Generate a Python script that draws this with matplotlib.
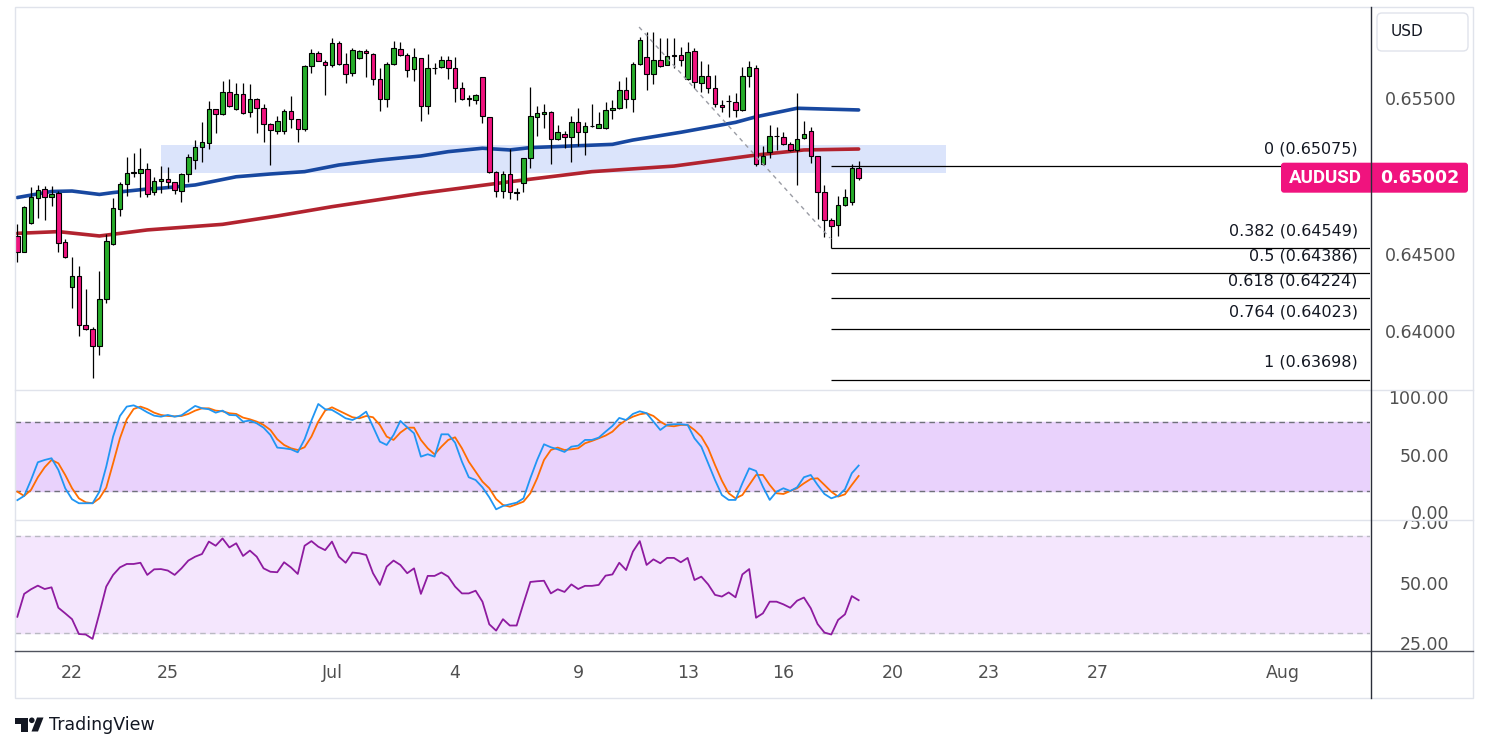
import numpy as np
import matplotlib
matplotlib.use('Agg')
import matplotlib.pyplot as plt
from matplotlib.patches import Rectangle, FancyBboxPatch, Polygon, Circle

plt.rcParams['font.family'] = ['DejaVu Sans']

# --- AUDUSD 4H candles ---
opens = [0.64626, 0.64525, 0.64708, 0.64869, 0.64927, 0.64876, 0.64901, 0.64585, 0.64295, 0.64368,
         0.64050, 0.64024, 0.63914, 0.64218, 0.64574, 0.64798, 0.64959, 0.65034, 0.65034, 0.65056,
         0.64908, 0.64979, 0.64992, 0.64972, 0.64914, 0.65024, 0.65119, 0.65198, 0.65224, 0.65443,
         0.65411, 0.65553, 0.65447, 0.65540, 0.65424, 0.65508, 0.65450, 0.65346, 0.65301, 0.65301,
         0.65432, 0.65379, 0.65314, 0.65722, 0.65808, 0.65750, 0.65729, 0.65869, 0.65733, 0.65675,
         0.65772, 0.65817, 0.65798, 0.65637, 0.65508, 0.65733, 0.65830, 0.65791, 0.65701, 0.65772,
         0.65462, 0.65708, 0.65714, 0.65759, 0.65708, 0.65579, 0.65511, 0.65501, 0.65650, 0.65392,
         0.65041, 0.64914, 0.65024, 0.64910, 0.64966, 0.65127, 0.65395, 0.65411, 0.65424, 0.65250,
         0.65282, 0.65266, 0.65359, 0.65299, 0.65333, 0.65324, 0.65321, 0.65437, 0.65450, 0.65566,
         0.65510, 0.65733, 0.65782, 0.65669, 0.65759, 0.65729, 0.65790, 0.65791, 0.65637, 0.65817,
         0.65611, 0.65656, 0.65579, 0.65469, 0.65495, 0.65488, 0.65437, 0.65656, 0.65708, 0.65092,
         0.65166, 0.65269, 0.65263, 0.65217, 0.65179, 0.65256, 0.65301, 0.65140, 0.64908, 0.64727,
         0.64695, 0.64824, 0.64843, 0.65063]
highs = [0.64701, 0.64819, 0.64940, 0.64955, 0.64950, 0.64948, 0.64916, 0.64605, 0.64492, 0.64432,
         0.64284, 0.64037, 0.64400, 0.64637, 0.64869, 0.64976, 0.65137, 0.65159, 0.65192, 0.65095,
         0.65008, 0.65077, 0.65073, 0.64976, 0.65034, 0.65155, 0.65245, 0.65361, 0.65497, 0.65446,
         0.65626, 0.65639, 0.65615, 0.65615, 0.65606, 0.65514, 0.65477, 0.65353, 0.65400, 0.65443,
         0.65529, 0.65382, 0.65727, 0.65832, 0.65821, 0.65761, 0.65901, 0.65884, 0.65804, 0.65837,
         0.65824, 0.65830, 0.65804, 0.65708, 0.65746, 0.65884, 0.65875, 0.65804, 0.65837, 0.65775,
         0.65800, 0.65740, 0.65787, 0.65787, 0.65779, 0.65617, 0.65535, 0.65540, 0.65652, 0.65395,
         0.65045, 0.65045, 0.65187, 0.64934, 0.65131, 0.65589, 0.65464, 0.65475, 0.65432, 0.65342,
         0.65303, 0.65402, 0.65450, 0.65359, 0.65475, 0.65424, 0.65488, 0.65503, 0.65626, 0.65653,
         0.65750, 0.65911, 0.65944, 0.65944, 0.65905, 0.65905, 0.65901, 0.65843, 0.65875, 0.65837,
         0.65755, 0.65733, 0.65664, 0.65503, 0.65535, 0.65546, 0.65718, 0.65755, 0.65727, 0.65204,
         0.65342, 0.65329, 0.65295, 0.65232, 0.65546, 0.65366, 0.65327, 0.65142, 0.64953, 0.64740,
         0.64882, 0.64927, 0.65088, 0.65108]
lows = [0.64460, 0.64520, 0.64705, 0.64744, 0.64729, 0.64819, 0.64525, 0.64486, 0.64163, 0.63983,
        0.64020, 0.63710, 0.63858, 0.64196, 0.64568, 0.64755, 0.64886, 0.65008, 0.64876, 0.64879,
        0.64890, 0.64901, 0.64934, 0.64895, 0.64847, 0.64976, 0.65058, 0.65105, 0.65185, 0.65292,
        0.65408, 0.65456, 0.65439, 0.65414, 0.65395, 0.65292, 0.65234, 0.65084, 0.65284, 0.65284,
        0.65324, 0.65234, 0.65305, 0.65679, 0.65754, 0.65535, 0.65714, 0.65729, 0.65615, 0.65660,
        0.65770, 0.65653, 0.65600, 0.65434, 0.65460, 0.65730, 0.65788, 0.65653, 0.65628, 0.65370,
        0.65411, 0.65669, 0.65712, 0.65637, 0.65492, 0.65505, 0.65464, 0.65477, 0.65357, 0.65030,
        0.64880, 0.64869, 0.64865, 0.64858, 0.64912, 0.65066, 0.65273, 0.65324, 0.65088, 0.65248,
        0.65195, 0.65101, 0.65208, 0.65148, 0.65329, 0.65322, 0.65316, 0.65381, 0.65448, 0.65450,
        0.65424, 0.65730, 0.65568, 0.65604, 0.65718, 0.65727, 0.65708, 0.65724, 0.65635, 0.65582,
        0.65557, 0.65546, 0.65456, 0.65428, 0.65395, 0.65395, 0.65435, 0.65589, 0.65079, 0.65084,
        0.65127, 0.65181, 0.65215, 0.65174, 0.64957, 0.65254, 0.65095, 0.64734, 0.64621, 0.64611,
        0.64628, 0.64822, 0.64824, 0.64985]
closes = [0.64525, 0.64811, 0.64876, 0.64921, 0.64876, 0.64895, 0.64583, 0.64492, 0.64368, 0.64050,
          0.64024, 0.63914, 0.64218, 0.64594, 0.64805, 0.64959, 0.65030, 0.65037, 0.65056, 0.64895,
          0.64979, 0.64992, 0.64972, 0.64923, 0.65024, 0.65134, 0.65198, 0.65230, 0.65445, 0.65411,
          0.65553, 0.65462, 0.65540, 0.65417, 0.65508, 0.65450, 0.65346, 0.65310, 0.65368, 0.65432,
          0.65379, 0.65314, 0.65722, 0.65808, 0.65757, 0.65729, 0.65869, 0.65733, 0.65669, 0.65824,
          0.65817, 0.65804, 0.65637, 0.65508, 0.65733, 0.65837, 0.65791, 0.65695, 0.65779, 0.65462,
          0.65708, 0.65710, 0.65759, 0.65708, 0.65579, 0.65508, 0.65513, 0.65535, 0.65398, 0.65041,
          0.64914, 0.65024, 0.64908, 0.64906, 0.65127, 0.65400, 0.65417, 0.65424, 0.65250, 0.65299,
          0.65266, 0.65359, 0.65299, 0.65333, 0.65335, 0.65346, 0.65437, 0.65450, 0.65566, 0.65510,
          0.65733, 0.65888, 0.65669, 0.65759, 0.65720, 0.65789, 0.65792, 0.65759, 0.65811, 0.65617,
          0.65656, 0.65579, 0.65475, 0.65456, 0.65497, 0.65437, 0.65656, 0.65714, 0.65088, 0.65140,
          0.65269, 0.65271, 0.65217, 0.65179, 0.65250, 0.65282, 0.65140, 0.64908, 0.64727, 0.64688,
          0.64824, 0.64876, 0.65063, 0.65002]

# moving averages (bar index, value)
ma_blue_idx = [0, 5, 8, 12, 14, 19, 21, 26, 32, 37, 42, 47, 53, 59, 63, 68, 72, 75, 87, 90, 97, 105, 108, 114, 118, 123]
ma_blue = [0.64874, 0.64913, 0.64916, 0.64894, 0.64906, 0.64929, 0.64934, 0.64955, 0.65008, 0.65026,
           0.65041, 0.65084, 0.65116, 0.65142, 0.65170, 0.65192, 0.65181, 0.65196, 0.65217, 0.65245,
           0.65295, 0.65359, 0.65395, 0.65450, 0.65445, 0.65439]
ma_red_idx = [0, 6, 12, 19, 30, 38, 46, 59, 72, 84, 96, 108, 115, 123]
ma_red = [0.64643, 0.64654, 0.64626, 0.64665, 0.64701, 0.64755, 0.64815, 0.64901, 0.64976, 0.65041,
          0.65077, 0.65148, 0.65181, 0.65187]

# stochastic %K / %D
stoch_k = [12.0, 15.7, 29.6, 45.1, 47.1, 48.6, 38.4, 22.4, 12.8, 9.3,
           9.3, 9.3, 19.4, 41.3, 67.5, 85.5, 93.7, 94.8, 92.2, 88.7,
           85.8, 84.9, 86.4, 84.9, 86.1, 90.2, 94.3, 92.2, 91.4, 88.4,
           90.2, 86.4, 86.1, 80.6, 81.5, 79.1, 75.3, 68.9, 57.9, 57.3,
           56.4, 53.8, 65.2, 81.5, 96.0, 91.4, 90.8, 87.3, 83.5, 82.0,
           84.9, 89.3, 76.2, 63.1, 60.2, 68.9, 81.2, 75.6, 70.4, 50.0,
           52.1, 50.0, 69.5, 69.5, 62.2, 45.6, 32.0, 29.6, 23.2, 14.5,
           4.0, 6.9, 8.4, 9.8, 13.6, 31.1, 47.1, 60.8, 58.2, 56.4,
           54.1, 58.7, 59.6, 64.6, 64.6, 66.6, 71.8, 76.8, 83.8, 82.0,
           87.3, 89.6, 87.9, 80.6, 73.3, 77.7, 78.3, 78.3, 77.7, 66.0,
           58.7, 44.2, 29.6, 16.5, 12.2, 12.2, 26.7, 39.8, 37.5, 23.8,
           12.2, 19.4, 22.4, 20.0, 23.2, 32.0, 34.0, 25.3, 17.4, 13.6,
           15.7, 21.5, 35.5, 42.2]
stoch_d = [19.4, 15.7, 20.9, 32.0, 40.7, 47.1, 44.2, 34.0, 22.4, 13.6,
           10.1, 9.3, 13.6, 22.9, 44.2, 66.0, 82.6, 91.6, 93.7, 91.6,
           88.4, 86.4, 85.5, 85.2, 85.5, 87.3, 90.2, 92.2, 92.2, 90.2,
           89.6, 87.9, 87.3, 84.1, 82.6, 80.6, 77.7, 73.3, 65.2, 60.2,
           57.3, 55.8, 58.2, 67.5, 80.6, 90.2, 93.1, 90.2, 87.3, 84.4,
           83.5, 85.5, 84.4, 77.7, 67.5, 64.6, 71.0, 75.3, 75.3, 64.6,
           57.3, 52.0, 58.7, 64.6, 66.9, 57.3, 45.6, 36.9, 28.2, 22.4,
           13.0, 7.8, 6.3, 8.4, 10.7, 18.0, 31.1, 47.1, 55.8, 57.9,
           55.8, 56.4, 57.3, 61.7, 63.7, 66.0, 68.4, 71.8, 77.7, 82.0,
           84.9, 87.0, 87.9, 85.5, 80.6, 77.1, 76.5, 77.7, 77.7, 73.3,
           67.5, 57.3, 42.7, 29.1, 18.0, 13.6, 16.5, 25.3, 34.0, 34.0,
           25.3, 18.0, 17.4, 20.0, 22.4, 26.7, 30.5, 31.1, 25.3, 19.4,
           15.1, 17.1, 25.3, 33.1]

# RSI
rsi = [36.8, 46.2, 48.1, 49.6, 48.2, 48.9, 40.5, 38.2, 35.8, 29.7,
       29.5, 27.7, 38.2, 49.2, 54.0, 57.1, 58.5, 58.5, 59.0, 54.0,
       56.3, 56.4, 55.8, 54.0, 56.7, 59.9, 61.5, 62.6, 67.7, 66.0,
       69.0, 65.3, 67.0, 61.8, 64.0, 61.5, 56.7, 55.3, 55.1, 59.2,
       57.1, 54.4, 66.0, 67.9, 65.6, 64.2, 67.7, 61.5, 59.0, 63.2,
       62.9, 62.2, 54.7, 49.9, 57.4, 59.9, 58.1, 54.7, 56.7, 46.2,
       53.6, 53.6, 55.0, 53.3, 49.2, 46.4, 46.4, 47.5, 43.0, 33.7,
       31.1, 35.8, 33.2, 33.2, 42.3, 51.1, 51.4, 51.6, 46.4, 48.1,
       47.0, 50.1, 48.2, 49.5, 49.5, 49.9, 53.7, 54.2, 59.0, 56.0,
       63.6, 67.9, 58.1, 60.4, 58.8, 61.0, 61.0, 59.2, 61.0, 51.9,
       53.3, 50.1, 45.8, 45.1, 46.8, 44.8, 54.2, 56.4, 36.4, 38.2,
       43.0, 43.0, 41.9, 40.5, 43.4, 44.7, 40.3, 33.8, 30.3, 29.5,
       35.5, 37.8, 45.3, 43.6]

# fibonacci levels, zone, trend line
fib_labels = ['0', '0.382', '0.5', '0.618', '0.764', '1']
fib_prices = [0.65075, 0.64549, 0.64386, 0.64224, 0.64023, 0.63698]
fib_start = 119
zone_x = (21, 135.8)
zone_y = (0.65034, 0.65213)
trend_x = [90.9, 118.8]
trend_y = [0.65974, 0.64613]

date_pos = [8, 22, 46, 64, 82, 98, 112, 128, 142, 158, 185]
date_labels = ['22', '25', 'Jul', '4', '9', '13', '16', '20', '23', '27', 'Aug']
price_ticks = [0.655, 0.645, 0.640]
stoch_ticks = [100, 50, 0]
rsi_ticks = [75, 50, 25]

GREEN = '#27ad2a'
PINK = '#f0137e'
GRID = '#e0e3eb'
TXT = '#4f4f4f'

W, H = 1491, 752
fig = plt.figure(figsize=(W / 100, H / 100), dpi=100)


def box(x0, y0, x1, y1):
    return [x0 / W, 1 - y1 / H, (x1 - x0) / W, (y1 - y0) / H]


XLIM = (-0.34, 197.76)
ax = fig.add_axes(box(15, 7, 1370, 390))
ax_st = fig.add_axes(box(15, 390, 1370, 520))
ax_rsi = fig.add_axes(box(15, 520, 1370, 650))
ax_t = fig.add_axes(box(15, 650, 1370, 698))
r_main = fig.add_axes(box(1370, 7, 1473, 390))
r_st = fig.add_axes(box(1370, 390, 1473, 520))
r_rsi = fig.add_axes(box(1370, 520, 1473, 650))

ax.set_ylim(0.636323, 0.661032)
ax_st.set_ylim(-5.33, 108.2)
ax_rsi.set_ylim(23.13, 76.58)
ax_t.set_ylim(0, 1)
for a in (ax, ax_st, ax_rsi, ax_t):
    a.set_xlim(*XLIM)
for a, b in ((r_main, ax), (r_st, ax_st), (r_rsi, ax_rsi)):
    a.set_xlim(0, 1)
    a.set_ylim(b.get_ylim())
for a in (ax, ax_st, ax_rsi, ax_t, r_main, r_st, r_rsi):
    a.set_axis_off()

# main panel
o = np.array(opens)
c = np.array(closes)
x = np.arange(len(o))
cols = np.where(c >= o, GREEN, PINK)
ax.add_patch(Rectangle((zone_x[0], zone_y[0]), zone_x[1] - zone_x[0], zone_y[1] - zone_y[0],
                       facecolor='#dbe4fb', edgecolor='none', zorder=1))
ax.plot(ma_blue_idx, ma_blue, color='#1848a0', lw=2.6, zorder=2, solid_capstyle='round')
ax.plot(ma_red_idx, ma_red, color='#b2232f', lw=2.6, zorder=2, solid_capstyle='round')
ax.vlines(x, lows, highs, color='black', lw=0.9, zorder=3)
ax.bar(x, np.maximum(np.abs(c - o), 0.000012), bottom=np.minimum(o, c), width=0.66,
       color=cols, edgecolor='black', linewidth=0.8, zorder=4)
ax.plot(trend_x, trend_y, color='#9a9ca4', lw=1, dashes=(3, 3), zorder=5)

for lab, p in zip(fib_labels, fib_prices):
    ax.hlines(p, fib_start, XLIM[1], color='black', lw=0.9, zorder=5)
    ax.annotate(f'{lab} ({p:.5f})', xy=(0.991, p), xycoords=('axes fraction', 'data'),
                xytext=(0, 12.5), textcoords='offset points', ha='right', va='center',
                fontsize=11.5, color='#131722', zorder=6)
ax.vlines(fib_start, lows[fib_start], fib_prices[1], color='black', lw=0.9, zorder=5)

for p in price_ticks:
    r_main.text(0.146, p, f'{p:.5f}', ha='left', va='center', fontsize=12.5, color=TXT, clip_on=True)

# stochastic panel
ax_st.axhspan(20, 80, color='#e9d2fc', zorder=0)
for lv in (80, 20):
    ax_st.axhline(lv, color='#6f717a', lw=1, dashes=(4, 3), zorder=1)
ax_st.plot(x, stoch_k, color='#2196f3', lw=1.3, zorder=3)
ax_st.plot(x, stoch_d, color='#ff6d00', lw=1.3, zorder=2)
for v in stoch_ticks:
    r_st.text(0.767, v, f'{v:.2f}', ha='right', va='center', fontsize=12.5, color=TXT, clip_on=True)

# RSI panel
ax_rsi.axhspan(30, 70, color='#f4e6fd', zorder=0)
for lv in (70, 30):
    ax_rsi.axhline(lv, color='#b9b9c2', lw=1, dashes=(4, 3), zorder=1)
ax_rsi.plot(x, rsi, color='#8e1ba0', lw=1.3, zorder=2)
for v in rsi_ticks:
    r_rsi.text(0.767, v, f'{v:.2f}', ha='right', va='center', fontsize=12.5, color=TXT, clip_on=True)

# time axis
for pos, lab in zip(date_pos, date_labels):
    ax_t.text(pos, 0.52, lab, ha='center', va='center', fontsize=12.5, color=TXT)

# frame, separators, labels (pixel overlay)
ov = fig.add_axes([0, 0, 1, 1], zorder=10)
ov.set_xlim(0, W)
ov.set_ylim(H, 0)
ov.set_axis_off()
ov.patch.set_alpha(0)
ov.add_patch(Rectangle((15, 7), 1458, 691, fill=False, edgecolor=GRID, lw=1))
ov.plot([15, 1473], [390, 390], color=GRID, lw=1)
ov.plot([15, 1473], [520, 520], color=GRID, lw=1)
ov.plot([15, 1473], [650.5, 650.5], color='#50535e', lw=1)

last_y = H - ax.transData.transform((0, closes[-1]))[1]
ov.add_patch(FancyBboxPatch((1281, last_y - 15), 187, 30,
                            boxstyle='round,pad=0,rounding_size=3', facecolor=PINK,
                            edgecolor='none'))
ov.text(1325, last_y, 'AUDUSD', ha='center', va='center', fontsize=13.5, color='white',
        fontweight='bold', family=['Roboto', 'DejaVu Sans'])
ov.text(1420, last_y, f'{closes[-1]:.5f}', ha='center', va='center', fontsize=12.5, color='white',
        fontweight='bold')
ov.plot([1370.5, 1370.5], [7, 698], color='#2a2e39', lw=1)

ov.add_patch(FancyBboxPatch((1377, 13), 91, 38, boxstyle='round,pad=0,rounding_size=5',
                            facecolor='white', edgecolor=GRID, lw=1))
ov.text(1391, 32, 'USD', ha='left', va='center', fontsize=11, color='#131722')

# TradingView logo
ov.add_patch(Polygon([(15, 717.5), (28, 717.5), (28, 731.5), (21, 731.5), (21, 723.5), (15, 723.5)],
                     closed=True, facecolor='#131722', edgecolor='none'))
ov.add_patch(Circle((31.8, 720.3), 2.8, facecolor='#131722', edgecolor='none'))
ov.add_patch(Polygon([(37, 717.5), (43.5, 717.5), (38, 731.5), (31.5, 731.5)],
                     closed=True, facecolor='#131722', edgecolor='none'))
ov.text(49, 725, 'TradingView', ha='left', va='center', fontsize=12.5, color='#131722')

fig.savefig('out.png', dpi=100)
